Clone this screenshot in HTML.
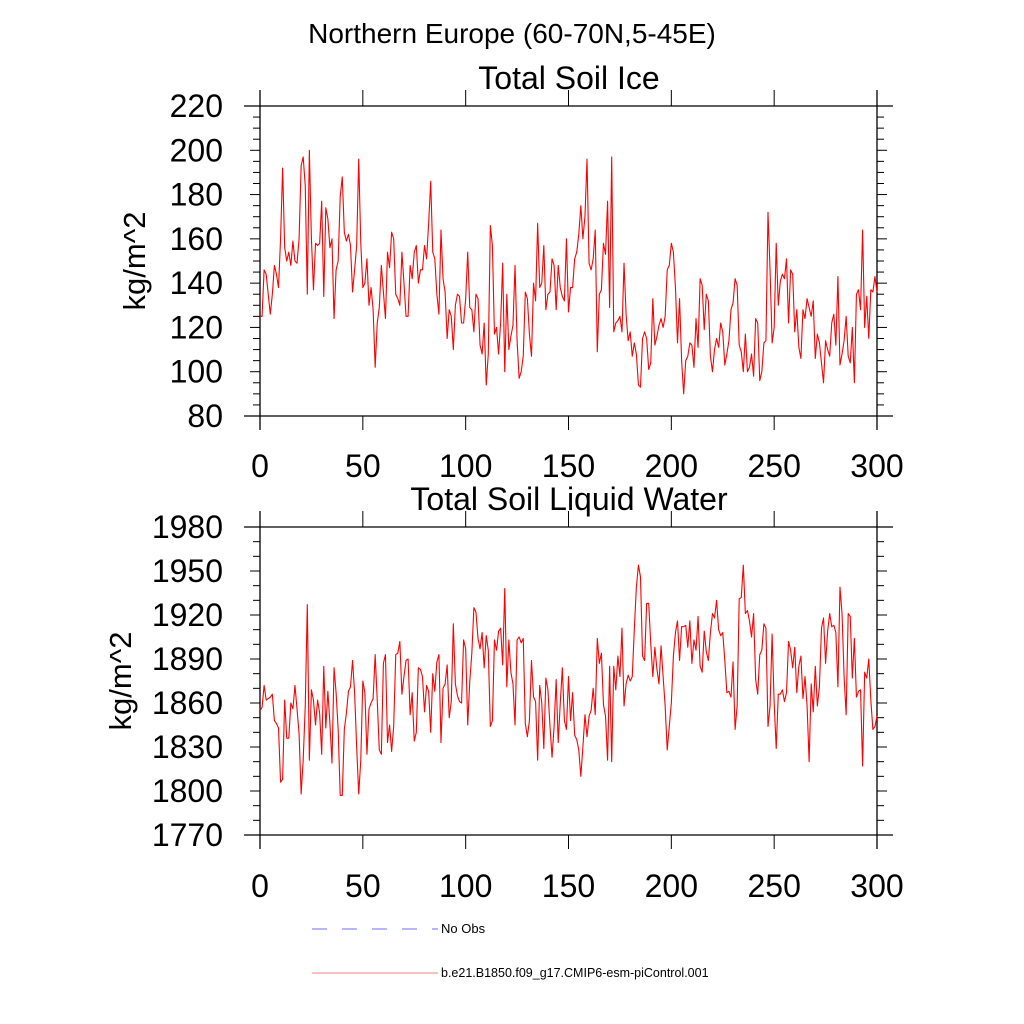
<!DOCTYPE html>
<html><head><meta charset="utf-8">
<style>
html,body{margin:0;padding:0;background:#fff;}
svg{display:block;font-family:"Liberation Sans",Arial,sans-serif;}
</style></head>
<body>
<svg id="chart" width="1024" height="1024" viewBox="0 0 1024 1024" xmlns="http://www.w3.org/2000/svg">
<rect width="1024" height="1024" fill="#fff"/>
<text x="512" y="43" font-size="28" text-anchor="middle">Northern Europe (60-70N,5-45E)</text>
<g id="p1"></g>
<g id="p2"></g>
<g>
<line x1="312" y1="929" x2="438" y2="929" stroke="#6f6fff" stroke-width="1" stroke-dasharray="15,15"/>
<text x="441" y="933" font-size="13">No Obs</text>
<line x1="312" y1="973" x2="438" y2="973" stroke="#f08080" stroke-width="1"/>
<text x="441" y="977" font-size="12.5">b.e21.B1850.f09_g17.CMIP6-esm-piControl.001</text>
</g>
</svg>
<script>
const xTicks = [0,50,100,150,200,250,300];
const iceTicks = [80,100,120,140,160,180,200,220];
const waterTicks = [1770,1800,1830,1860,1890,1920,1950,1980];
const iceValues = [125,125,146,144,135,126,135,148,144,138,160,192,156,150,154,148,159,150,149,160,193,197,184,135,200,160,137,158,157,158,177,134,174,169,156,160,124,146,150,179,188,163,159,162,157,136,146,157,196,158,138,140,151,130,138,128,102,122,129,148,136,124,154,147,163,160,135,133,130,154,140,125,125,148,142,154,157,140,146,146,157,151,167,186,154,151,135,126,164,142,136,115,128,125,110,130,135,134,122,122,133,154,129,128,118,135,133,112,108,122,94,108,166,157,117,120,108,122,149,100,135,110,116,121,148,114,97,100,107,136,133,117,107,140,132,167,138,140,157,128,135,136,151,148,128,148,138,134,132,160,127,138,138,151,154,162,175,160,170,196,149,146,151,164,109,135,137,158,153,177,129,197,118,122,123,125,118,149,126,114,118,107,113,108,94,93,115,118,115,101,104,133,112,116,121,124,120,125,146,148,158,154,138,113,133,105,90,105,107,113,112,102,124,111,142,139,119,135,132,107,100,110,115,111,122,118,103,108,114,128,131,142,139,112,109,100,117,100,102,108,98,124,122,96,100,113,114,172,146,113,120,158,130,141,144,142,151,122,146,144,118,128,111,106,128,124,133,129,125,132,106,117,113,104,95,114,110,107,122,126,112,143,103,108,114,125,107,104,120,95,135,137,128,164,120,134,115,137,136,143,136];
const waterValues = [1855,1857,1872,1862,1863,1864,1866,1848,1846,1843,1806,1808,1862,1836,1836,1860,1856,1872,1856,1839,1798,1821,1858,1927,1821,1869,1862,1845,1862,1853,1825,1885,1843,1868,1846,1819,1884,1867,1842,1797,1797,1842,1853,1868,1871,1889,1867,1830,1798,1821,1875,1867,1825,1856,1860,1863,1893,1862,1828,1825,1887,1893,1833,1845,1827,1844,1893,1894,1902,1866,1878,1889,1890,1852,1867,1834,1840,1884,1883,1878,1854,1872,1868,1840,1880,1868,1888,1893,1833,1870,1873,1886,1850,1861,1914,1873,1865,1861,1860,1903,1897,1845,1875,1894,1925,1922,1904,1897,1908,1884,1906,1896,1844,1848,1903,1896,1909,1911,1886,1938,1871,1903,1881,1873,1845,1903,1905,1901,1904,1846,1837,1848,1889,1864,1861,1821,1872,1860,1829,1877,1869,1844,1823,1844,1876,1833,1860,1884,1848,1842,1878,1848,1867,1838,1835,1828,1810,1830,1852,1837,1851,1855,1870,1852,1904,1887,1894,1859,1851,1821,1885,1820,1885,1869,1892,1878,1911,1858,1873,1879,1875,1878,1910,1939,1954,1946,1892,1889,1928,1928,1900,1878,1898,1883,1873,1899,1878,1858,1828,1844,1860,1892,1908,1916,1889,1912,1912,1913,1898,1916,1887,1903,1896,1919,1885,1881,1909,1895,1889,1908,1921,1918,1930,1910,1906,1908,1889,1867,1868,1864,1888,1842,1858,1931,1932,1954,1921,1923,1916,1905,1921,1876,1866,1893,1896,1914,1911,1844,1858,1907,1860,1829,1866,1866,1869,1861,1867,1902,1896,1884,1898,1867,1885,1892,1863,1878,1858,1820,1873,1854,1885,1858,1871,1911,1918,1887,1909,1921,1912,1913,1908,1871,1939,1921,1878,1852,1921,1919,1877,1904,1864,1868,1869,1817,1881,1877,1890,1862,1842,1844,1851];

function mk(parent, tag, attrs){
  const e=document.createElementNS('http://www.w3.org/2000/svg',tag);
  for(const k in attrs) e.setAttribute(k,attrs[k]);
  parent.appendChild(e); return e;
}
function panel(gid, box, yTicks, minorStep, values, title, xLabelY){
  const g=document.getElementById(gid);
  const x0=box.l,x1=box.r,yT=box.t,yB=box.b;
  const ymin=yTicks[0], ymax=yTicks[yTicks.length-1];
  const sx=v=>x0+(v-0)/(300-0)*(x1-x0);
  const sy=v=>yB-(v-ymin)/(ymax-ymin)*(yB-yT);
  const t=mk(g,'text',{x:569,y:yT-17,'font-size':32,'text-anchor':'middle'});
  
  
  t.textContent=title;
  const fr=mk(g,'g',{stroke:'#000','stroke-width':1.3,fill:'none'});
  
  
  mk(fr,'line',{x1:244,y1:yT,x2:893,y2:yT});
  mk(fr,'line',{x1:244,y1:yB,x2:893,y2:yB});
  mk(fr,'line',{x1:x0,y1:yT-16,x2:x0,y2:yB+14});
  mk(fr,'line',{x1:x1,y1:yT-16,x2:x1,y2:yB+14});
  xTicks.forEach(v=>{
    const x=sx(v);
    const tk=mk(g,'line',{x1:x,y1:yT-16,x2:x,y2:yT,stroke:'#000','stroke-width':1});
    
    
    const tb=mk(g,'line',{x1:x,y1:yB,x2:x,y2:yB+14,stroke:'#000','stroke-width':1});
    
    
    const lb=mk(g,'text',{x:x,y:xLabelY,'font-size':32,'text-anchor':'middle'});
    
    
    lb.textContent=v;
  });
  for(let v=ymin; v<=ymax+1e-9; v+=minorStep){
    const y=sy(v);
    const major=yTicks.indexOf(Math.round(v))>=0;
    const len=major?10:7;
    const a=mk(g,'line',{x1:x0-len,y1:y,x2:x0,y2:y,stroke:'#000','stroke-width':1});
    
    
    const b=mk(g,'line',{x1:x1,y1:y,x2:x1+len,y2:y,stroke:'#000','stroke-width':1});
    
    
  }
  yTicks.forEach(v=>{
    const lb=mk(g,'text',{x:223,y:sy(v)+11,'font-size':32,'text-anchor':'end'});
    
    
    lb.textContent=v;
  });
  const yl=mk(g,'text',{x:0,y:0,'font-size':31,'text-anchor':'middle',transform:`translate(${box.ylabX},${(yT+yB)/2}) rotate(-90)`});
  
  
  yl.textContent='kg/m^2';
  const pts=values.map((v,i)=>sx(i).toFixed(2)+','+sy(v).toFixed(2)).join(' ');
  const pl=mk(g,'polyline',{points:pts,fill:'none',stroke:'#ff0000','stroke-width':1.1,'stroke-linejoin':'round'});
  
  
}
panel('p1',{l:260,r:877,t:106,b:416,ylabX:145},iceTicks,5,iceValues,'Total Soil Ice',477);
panel('p2',{l:260,r:877,t:527,b:835,ylabX:131},waterTicks,10,waterValues,'Total Soil Liquid Water',897);
</script>
</body></html>
